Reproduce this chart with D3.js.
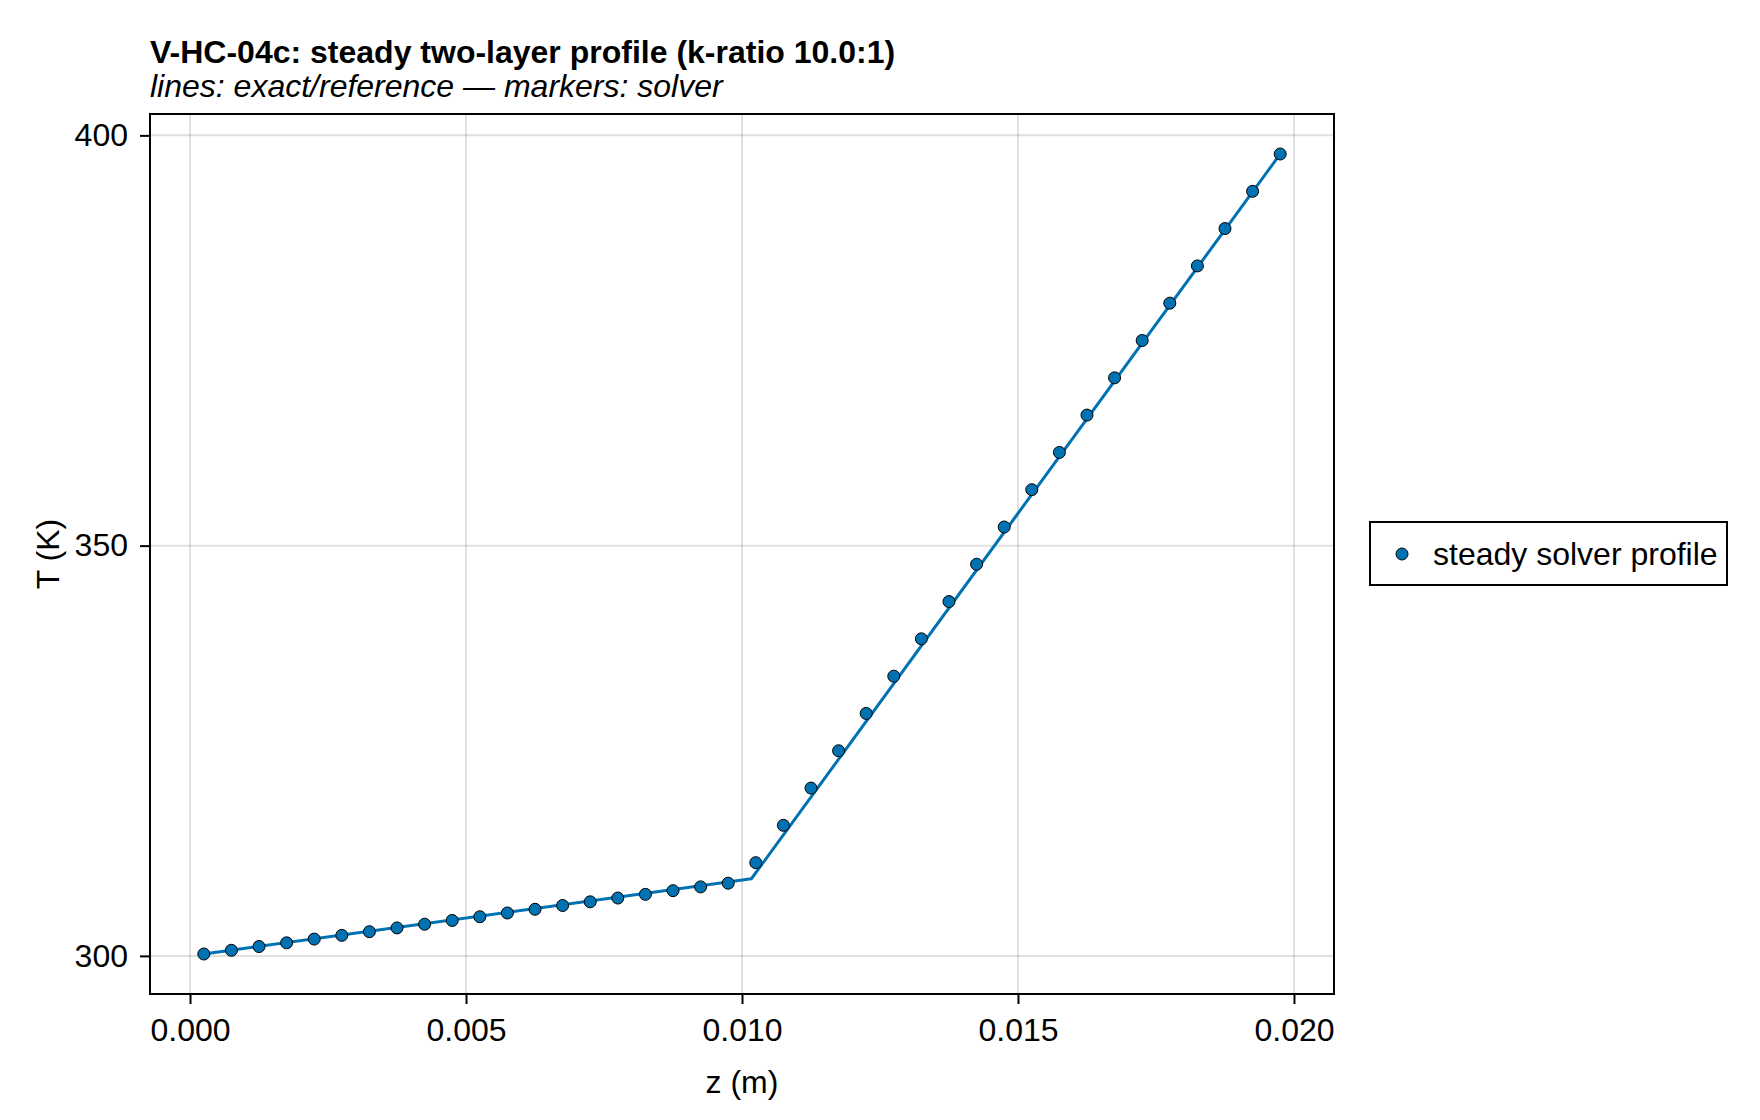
<!DOCTYPE html>
<html>
<head>
<meta charset="utf-8">
<script src="https://cdn.jsdelivr.net/npm/d3@7"></script>
<style>
	body { margin: 0; background: #fff; }
	svg { display: block; font-family: 'Liberation Sans', Arial, sans-serif; }
</style>
</head>
<body>
<div id="chart"></div>
<script>
// solver markers, cell centres (m)
const solverZ = [
	0.00025, 0.00075, 0.00125, 0.00175, 0.00225, 0.00275, 0.00325, 0.00375, 0.00425, 0.00475,
	0.00525, 0.00575, 0.00625, 0.00675, 0.00725, 0.00775, 0.00825, 0.00875, 0.00925, 0.00975,
	0.01025, 0.01075, 0.01125, 0.01175, 0.01225, 0.01275, 0.01325, 0.01375, 0.01425, 0.01475,
	0.01525, 0.01575, 0.01625, 0.01675, 0.01725, 0.01775, 0.01825, 0.01875, 0.01925, 0.01975
]
// solver temperature (K)
const solverT = [
	300.23, 300.68, 301.14, 301.59, 302.05, 302.50, 302.95, 303.41, 303.86, 304.32,
	304.77, 305.23, 305.68, 306.14, 306.59, 307.05, 307.50, 307.95, 308.41, 308.86,
	311.36, 315.91, 320.45, 325.00, 329.55, 334.09, 338.64, 343.18, 347.73, 352.27,
	356.82, 361.36, 365.91, 370.45, 375.00, 379.55, 384.09, 388.64, 393.18, 397.73
]
// exact / reference line
const exactZ = [0.00025, 0.01017, 0.01975]
const exactT = [300.23, 309.40, 397.73]

const xTicks = [0, 0.005, 0.010, 0.015, 0.020]
const yTicks = [300, 350, 400]

const titleText = 'V-HC-04c: steady two-layer profile (k-ratio 10.0:1)'
const subtitleText = 'lines: exact/reference \u2014 markers: solver'
const legendLabel = 'steady solver profile'

const width = 1760
const height = 1120
const margin = { left: 150, right: 426, top: 114, bottom: 126 }
const blue = '#0072b2'
const fontSize = 32
const markerR = 6

const svg = d3.select('#chart')
	.append('svg')
	.attr('width', width)
	.attr('height', height)

// auto limits with 5% padding, like the plotting library does
function padded(values) {
	const [lo, hi] = d3.extent(values)
	const pad = (hi - lo) * 0.05
	return [lo - pad, hi + pad]
}

const x = d3.scaleLinear()
	.domain(padded(solverZ.concat(exactZ)))
	.range([margin.left, width - margin.right])

const y = d3.scaleLinear()
	.domain(padded(solverT.concat(exactT)))
	.range([height - margin.bottom, margin.top])

const plotW = width - margin.left - margin.right
const plotH = height - margin.top - margin.bottom

// grid
const grid = svg.append('g')
	.attr('stroke', 'rgba(0,0,0,0.12)')
	.attr('stroke-width', 2)
grid.selectAll('.gx')
	.data(xTicks)
	.join('line')
	.attr('x1', d => x(d)).attr('x2', d => x(d))
	.attr('y1', margin.top).attr('y2', height - margin.bottom)
grid.selectAll('.gy')
	.data(yTicks)
	.join('line')
	.attr('x1', margin.left).attr('x2', width - margin.right)
	.attr('y1', d => y(d)).attr('y2', d => y(d))

// exact line
const pts = exactZ.map((z, i) => [z, exactT[i]])
svg.append('path')
	.datum(pts)
	.attr('fill', 'none')
	.attr('stroke', blue)
	.attr('stroke-width', 3)
	.attr('stroke-linejoin', 'round')
	.attr('d', d3.line().x(d => x(d[0])).y(d => y(d[1])))

// solver markers
svg.append('g')
	.selectAll('circle')
	.data(solverZ.map((z, i) => ({ z: z, t: solverT[i] })))
	.join('circle')
	.attr('cx', d => x(d.z))
	.attr('cy', d => y(d.t))
	.attr('r', markerR)
	.attr('fill', blue)
	.attr('stroke', '#000')
	.attr('stroke-width', 1)

// axes
const xAxis = svg.append('g')
	.attr('transform', `translate(0,${height - margin.bottom})`)
	.call(d3.axisBottom(x).tickValues(xTicks).tickFormat(d3.format('.3f')).tickSize(10).tickPadding(14).tickSizeOuter(0))
const yAxis = svg.append('g')
	.attr('transform', `translate(${margin.left},0)`)
	.call(d3.axisLeft(y).tickValues(yTicks).tickFormat(d3.format('d')).tickSize(10).tickPadding(12).tickSizeOuter(0))

for (const ax of [xAxis, yAxis]) {
	ax.select('.domain').remove()
	ax.selectAll('.tick line').attr('stroke', '#000').attr('stroke-width', 2)
	ax.selectAll('.tick text')
		.attr('fill', '#000')
		.style('font-size', fontSize + 'px')
		.style('font-family', "'Liberation Sans', Arial, sans-serif")
}

// frame
svg.append('rect')
	.attr('x', margin.left)
	.attr('y', margin.top)
	.attr('width', plotW)
	.attr('height', plotH)
	.attr('fill', 'none')
	.attr('stroke', '#000')
	.attr('stroke-width', 2)

// axis labels
svg.append('text')
	.attr('x', margin.left + plotW / 2)
	.attr('y', 1093)
	.attr('text-anchor', 'middle')
	.style('font-size', fontSize + 'px')
	.text('z (m)')

svg.append('text')
	.attr('transform', `translate(59,${margin.top + plotH / 2}) rotate(-90)`)
	.attr('text-anchor', 'middle')
	.style('font-size', fontSize + 'px')
	.text('T (K)')

// title + subtitle
svg.append('text')
	.attr('x', margin.left)
	.attr('y', 62.5)
	.style('font-size', fontSize + 'px')
	.style('font-weight', 'bold')
	.text(titleText)

svg.append('text')
	.attr('x', margin.left)
	.attr('y', 97)
	.style('font-size', fontSize + 'px')
	.style('font-style', 'italic')
	.text(subtitleText)

// legend
const legend = svg.append('g')
	.attr('transform', 'translate(1370,522)')
legend.append('rect')
	.attr('width', 357)
	.attr('height', 63)
	.attr('fill', '#fff')
	.attr('stroke', '#000')
	.attr('stroke-width', 2)
legend.append('circle')
	.attr('cx', 32)
	.attr('cy', 32)
	.attr('r', markerR)
	.attr('fill', blue)
	.attr('stroke', '#000')
	.attr('stroke-width', 1)
legend.append('text')
	.attr('x', 63)
	.attr('y', 43)
	.style('font-size', fontSize + 'px')
	.text(legendLabel)
</script>
</body>
</html>
